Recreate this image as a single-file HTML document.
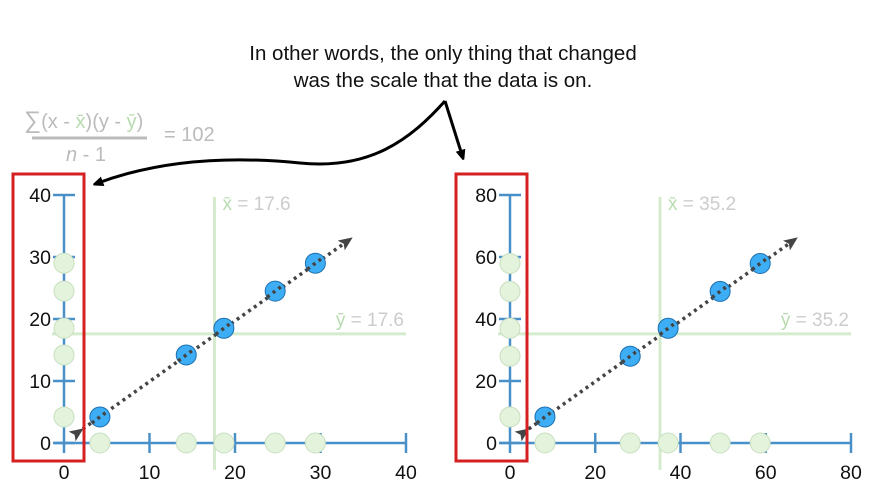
<!DOCTYPE html>
<html><head><meta charset="utf-8"><style>
html,body{margin:0;padding:0;background:#fff;}
svg{display:block;font-family:"Liberation Sans",sans-serif;}
</style></head><body>
<svg id="s" width="885" height="500" viewBox="0 0 885 500">
<defs>
<marker id="ah" markerWidth="10" markerHeight="10" refX="5" refY="5" orient="auto" markerUnits="userSpaceOnUse"><path d="M0,0 L12,5 L0,10 z" fill="#000"/></marker>
<marker id="dh" markerWidth="14" markerHeight="12" refX="6" refY="6" orient="auto" markerUnits="userSpaceOnUse"><path d="M0,0 L14,6 L0,12 L3,6 z" fill="#444"/></marker>
</defs>
<g>
<text x="443" y="60" font-size="20.5" text-anchor="middle" fill="#111">In other words, the only thing that changed</text>
<text x="443" y="87" font-size="20.5" text-anchor="middle" fill="#111">was the scale that the data is on.</text>
</g>
<g fill="#bbb" font-size="20">
<text x="24" y="128"><tspan font-size="24">∑</tspan>(x - <tspan fill="#b8dcb0">x̄</tspan>)(y - <tspan fill="#b8dcb0">ȳ</tspan>)</text>
<line x1="32" y1="138" x2="147" y2="138" stroke="#bbb" stroke-width="3"/>
<text x="66" y="161" font-style="italic">n<tspan font-style="normal"> - 1</tspan></text>
<text x="164" y="141">= 102</text>
</g>
<path d="M445,101 C410,140 370,170 300,163 C230,156 160,160 98,183" fill="none" stroke="#000" stroke-width="3" marker-end="url(#ah)"/>
<path d="M445,101 L462,155" fill="none" stroke="#000" stroke-width="3" marker-end="url(#ah)"/>
<g id="charts"></g>
<rect x="13" y="174" width="71" height="287" fill="none" stroke="#d42020" stroke-width="3"/>
<rect x="456" y="174" width="71" height="287" fill="none" stroke="#d42020" stroke-width="3"/>
</svg>
<script>
const leftX = [4.2, 14.3, 18.7, 24.7, 29.4];
const leftY = [4.2, 14.2, 18.5, 24.5, 29.0];
const leftMean = 17.6;
const leftTicks = [0, 10, 20, 30, 40];
const rightX = [8.2, 28.2, 37.1, 49.3, 58.7];
const rightY = [8.4, 28.0, 37.0, 48.9, 57.9];
const rightMean = 35.2;
const rightTicks = [0, 20, 40, 60, 80];

const NS = "http://www.w3.org/2000/svg";
const root = document.getElementById('charts');
function mk(tag, attrs, parent) {
  const e = document.createElementNS(NS, tag);
  for (const k in attrs) e.setAttribute(k, attrs[k]);
  parent.appendChild(e);
  return e;
}
function chart(name, xs, ys, mean, ticks, x0, x1) {
  const y0 = 443, y1 = 195;
  const max = ticks[ticks.length - 1];
  const sx = v => x0 + (x1 - x0) * v / max;
  const sy = v => y0 - (y0 - y1) * v / max;
  const g = mk('g', {}, root);
  
  
  const green = '#d5ebcd';
  const vm = mk('line', {x1: sx(mean), x2: sx(mean), y1: 197, y2: 470, stroke: green, 'stroke-width': 3}, g);
  
  
  const hm = mk('line', {x1: x0 - 12, x2: x1 + 0, y1: sy(mean), y2: sy(mean), stroke: green, 'stroke-width': 3}, g);
  
  
  const tx = mk('text', {x: sx(mean) + 8, y: 210, 'font-size': 19, fill: '#ccc'}, g);
  tx.innerHTML = '<tspan fill="#b8dcb0">x̄</tspan> = ' + mean;
  
  
  const ty = mk('text', {x: x1 - 2, y: sy(mean) - 8, 'font-size': 19, fill: '#ccc', 'text-anchor': 'end'}, g);
  ty.innerHTML = '<tspan fill="#b8dcb0">ȳ</tspan> = ' + mean;
  
  
  const blue = '#4a90c8';
  const xa = mk('line', {x1: x0 - 10, x2: sx(max), y1: y0, y2: y0, stroke: blue, 'stroke-width': 2.5}, g);
  
  
  const ya = mk('line', {x1: x0, x2: x0, y1: y0 + 10, y2: sy(max), stroke: blue, 'stroke-width': 2.5}, g);
  
  
  ticks.forEach(t => {
    if (t > 0) {
      const a = mk('line', {x1: sx(t), x2: sx(t), y1: y0 - 10, y2: y0 + 10, stroke: blue, 'stroke-width': 2.5}, g);
      
      
    }
    const b = mk('line', {x1: x0 - 11, x2: x0 + 11, y1: sy(t), y2: sy(t), stroke: blue, 'stroke-width': 2.5}, g);
    
    
    const lx = mk('text', {x: sx(t), y: 479, 'font-size': 19.5, 'text-anchor': 'middle', fill: '#111'}, g);
    lx.textContent = t;
    
    
    const ly = mk('text', {x: x0 - 13, y: sy(t) + 7, 'font-size': 19.5, 'text-anchor': 'end', fill: '#111'}, g);
    ly.textContent = t;
    
    
  });
  xs.forEach(v => {
    const c = mk('circle', {cx: sx(v), cy: y0, r: 10, fill: '#e3f3dc', stroke: '#c9dfc0', 'stroke-width': 1}, g);
    
    
  });
  ys.forEach(v => {
    const c = mk('circle', {cx: x0, cy: sy(v), r: 10, fill: '#e3f3dc', stroke: '#c9dfc0', 'stroke-width': 1}, g);
    
    
  });
  const tr = mk('line', {x1: x0 + 13, y1: 433, x2: sx(max * 0.825), y2: 242, stroke: '#444', 'stroke-width': 3.5, 'stroke-dasharray': '3 4', 'marker-end': 'url(#dh)', 'marker-start': 'url(#dh)'}, g);
  
  
  xs.forEach((v, i) => {
    const c = mk('circle', {cx: sx(v), cy: sy(ys[i]), r: 10, fill: '#3daef5', stroke: '#1d6fae', 'stroke-width': 1}, g);
    
    
  });
  xs.forEach((v, i) => {
    const d = mk('line', {x1: sx(v) - 8, y1: sy(ys[i]) + 6, x2: sx(v) + 8, y2: sy(ys[i]) - 6, stroke: '#444', 'stroke-width': 3.5, 'stroke-dasharray': '3 4'}, g);
    
    
  });
}
chart('left-chart', leftX, leftY, leftMean, leftTicks, 64, 406);
chart('right-chart', rightX, rightY, rightMean, rightTicks, 510, 851);
</script>
</body></html>
